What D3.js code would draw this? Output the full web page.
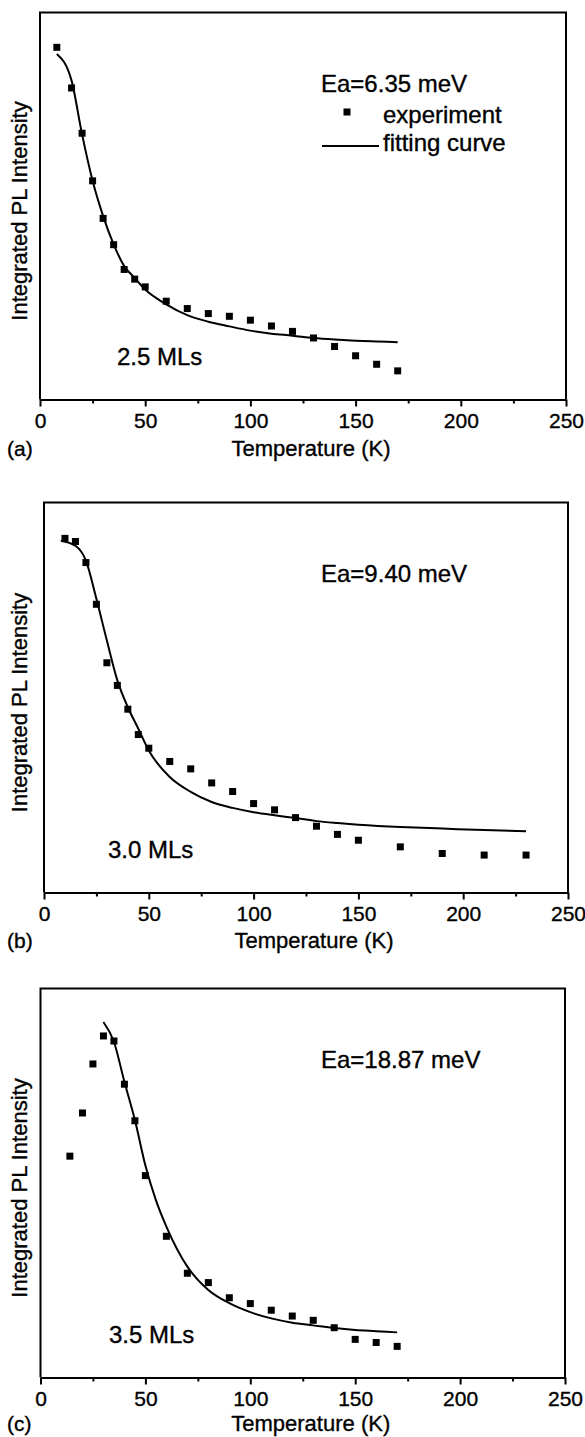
<!DOCTYPE html>
<html>
<head>
<meta charset="utf-8">
<script src="https://cdn.jsdelivr.net/npm/d3@7"></script>
<style>
  body { margin: 0; background: #fff; }
  svg { display: block; font-family: "Liberation Sans", Arial, Helvetica, sans-serif; }
  text { fill: #000; stroke: #000; stroke-width: 0.35px; }
</style>
</head>
<body>
<div id="chart"></div>
<script>
// x ticks shared by all three panels
var xTicks = [0, 50, 100, 150, 200, 250];
var xMinorTicks = [25, 75, 125, 175, 225];

// panel (a) 2.5 MLs - integrated PL intensity (arbitrary units, 0..1 of frame)
var tempA = [8, 15, 20, 25, 30, 35, 40, 45, 50, 60, 70, 80, 90, 100, 110, 120, 130, 140, 150, 160, 170];
var expA = [0.910, 0.805, 0.688, 0.565, 0.468, 0.400, 0.336, 0.311, 0.291, 0.254, 0.235, 0.222, 0.215, 0.205, 0.190, 0.176, 0.159, 0.137, 0.113, 0.091, 0.074];
var fitTempA = [8, 15, 20, 25, 30, 35, 40, 45, 50, 60, 70, 80, 90, 100, 110, 120, 130, 140, 150, 160, 170];
var fitA = [0.893, 0.824, 0.685, 0.565, 0.474, 0.401, 0.345, 0.314, 0.284, 0.246, 0.218, 0.201, 0.189, 0.178, 0.170, 0.165, 0.159, 0.155, 0.152, 0.150, 0.148];

// panel (b) 3.0 MLs
var tempB = [10, 15, 20, 25, 30, 35, 40, 45, 50, 60, 70, 80, 90, 100, 110, 120, 130, 140, 150, 170, 190, 210, 230];
var expB = [0.908, 0.900, 0.846, 0.739, 0.589, 0.531, 0.470, 0.405, 0.370, 0.336, 0.317, 0.281, 0.259, 0.228, 0.212, 0.192, 0.170, 0.149, 0.134, 0.117, 0.100, 0.096, 0.096];
var fitTempB = [8, 15, 20, 25, 30, 35, 40, 45, 50, 60, 70, 80, 90, 100, 110, 120, 130, 140, 150, 170, 190, 210, 230];
var fitB = [0.902, 0.889, 0.851, 0.753, 0.646, 0.544, 0.475, 0.420, 0.364, 0.296, 0.258, 0.232, 0.217, 0.206, 0.198, 0.191, 0.183, 0.178, 0.174, 0.168, 0.164, 0.160, 0.157];

// panel (c) 3.5 MLs
var tempC = [14, 20, 25, 30, 35, 40, 45, 50, 60, 70, 80, 90, 100, 110, 120, 130, 140, 150, 160, 170];
var expC = [0.569, 0.680, 0.806, 0.878, 0.865, 0.754, 0.660, 0.519, 0.363, 0.268, 0.244, 0.205, 0.190, 0.173, 0.158, 0.147, 0.128, 0.098, 0.090, 0.080];
var fitTempC = [30, 35, 40, 45, 50, 55, 60, 70, 80, 90, 100, 110, 120, 130, 140, 150, 160, 170];
var fitC = [0.914, 0.863, 0.760, 0.662, 0.545, 0.456, 0.388, 0.285, 0.225, 0.191, 0.168, 0.152, 0.141, 0.134, 0.127, 0.122, 0.119, 0.116];

var labels = ['(a)', '(b)', '(c)'];
var energies = ['Ea=6.35 meV', 'Ea=9.40 meV', 'Ea=18.87 meV'];
var layers = ['2.5 MLs', '3.0 MLs', '3.5 MLs'];

var W = 585, H = 1437;

// frame boxes of each panel in page pixels
var panels = [
  { left: 40, right: 566, top: 12.5, bottom: 399.5, t: tempA, e: expA, ft: fitTempA, f: fitA, legend: true, mlX: 117, titleDy: 56 },
  { left: 44, right: 568, top: 502.5, bottom: 892.5, t: tempB, e: expB, ft: fitTempB, f: fitB, legend: false, mlX: 108, titleDy: 55 },
  { left: 40.5, right: 565, top: 988.5, bottom: 1377.5, t: tempC, e: expC, ft: fitTempC, f: fitC, legend: false, mlX: 109, titleDy: 53 }
];

var svg = d3.select('#chart')
  .append('svg')
    .attr('width', W)
    .attr('height', H);

panels.forEach(function(p, i) {
  var x = d3.scaleLinear().domain([0, 250]).range([p.left, p.right]);
  var y = d3.scaleLinear().domain([0, 1]).range([p.bottom, p.top]);
  var g = svg.append('g');

  // frame: left, top, right
  g.append('path')
    .attr('d', 'M' + p.left + ',' + p.bottom + 'V' + p.top + 'H' + p.right + 'V' + p.bottom)
    .attr('fill', 'none')
    .attr('stroke', '#000')
    .attr('stroke-width', 2);

  // minor ticks
  g.append('g')
    .attr('transform', 'translate(0,' + p.bottom + ')')
    .call(d3.axisBottom(x).tickValues(xMinorTicks).tickSize(4).tickSizeOuter(0).tickFormat(''))
    .call(function(a) {
      a.select('.domain').remove();
      a.selectAll('line').attr('stroke-width', 2);
    });

  // x axis with major ticks
  g.append('g')
    .attr('transform', 'translate(0,' + p.bottom + ')')
    .call(d3.axisBottom(x).tickValues(xTicks).tickSize(7).tickSizeOuter(0).tickPadding(7))
    .call(function(a) {
      a.select('.domain').attr('stroke-width', 2);
      a.selectAll('line').attr('stroke-width', 2);
      a.selectAll('text')
        .attr('font-family', '"Liberation Sans", Arial, sans-serif')
        .attr('font-size', 21)
        .attr('fill', '#000');
    });

  // axis title
  g.append('text')
    .attr('x', (p.left + p.right) / 2 + 8)
    .attr('y', p.bottom + p.titleDy)
    .attr('text-anchor', 'middle')
    .style('font-size', '22px')
    .text('Temperature (K)');

  // panel label
  g.append('text')
    .attr('x', 7)
    .attr('y', p.bottom + p.titleDy)
    .style('font-size', '21px')
    .text(labels[i]);

  // y axis title
  g.append('text')
    .attr('transform', 'translate(27,' + ((p.top + p.bottom) / 2 + 5) + ') rotate(-90)')
    .attr('text-anchor', 'middle')
    .style('font-size', '22px')
    .text('Integrated PL Intensity');

  // fitting curve
  var fitData = p.ft.map(function(t, k) { return { t: t, v: p.f[k] }; });
  var line = d3.line()
    .x(function(d) { return x(d.t); })
    .y(function(d) { return y(d.v); })
    .curve(d3.curveMonotoneX);
  g.append('path')
    .datum(fitData)
    .attr('d', line)
    .attr('fill', 'none')
    .attr('stroke', '#000')
    .attr('stroke-width', 2);

  // experiment squares
  var expData = p.t.map(function(t, k) { return { t: t, v: p.e[k] }; });
  g.selectAll('rect.pt')
      .data(expData)
    .enter().append('rect')
      .attr('class', 'pt')
      .attr('x', function(d) { return x(d.t) - 3.5; })
      .attr('y', function(d) { return y(d.v) - 3.5; })
      .attr('width', 7)
      .attr('height', 7)
      .attr('fill', '#000');

  // energy annotation
  g.append('text')
    .attr('x', 321)
    .attr('y', p.top + 79)
    .style('font-size', '24px')
    .text(energies[i]);

  // layer thickness annotation
  g.append('text')
    .attr('x', p.mlX)
    .attr('y', p.bottom - 35)
    .style('font-size', '24px')
    .text(layers[i]);

  if (p.legend) {
    g.append('rect')
      .attr('x', 343.5).attr('y', p.top + 96)
      .attr('width', 7).attr('height', 7)
      .attr('fill', '#000');
    g.append('text')
      .attr('x', 383).attr('y', p.top + 110)
      .style('font-size', '24px')
      .text('experiment');
    g.append('line')
      .attr('x1', 322).attr('x2', 379)
      .attr('y1', p.top + 133.5).attr('y2', p.top + 133.5)
      .attr('stroke', '#000').attr('stroke-width', 2);
    g.append('text')
      .attr('x', 383).attr('y', p.top + 138)
      .style('font-size', '24px')
      .text('fitting curve');
  }
});
</script>
</body>
</html>
